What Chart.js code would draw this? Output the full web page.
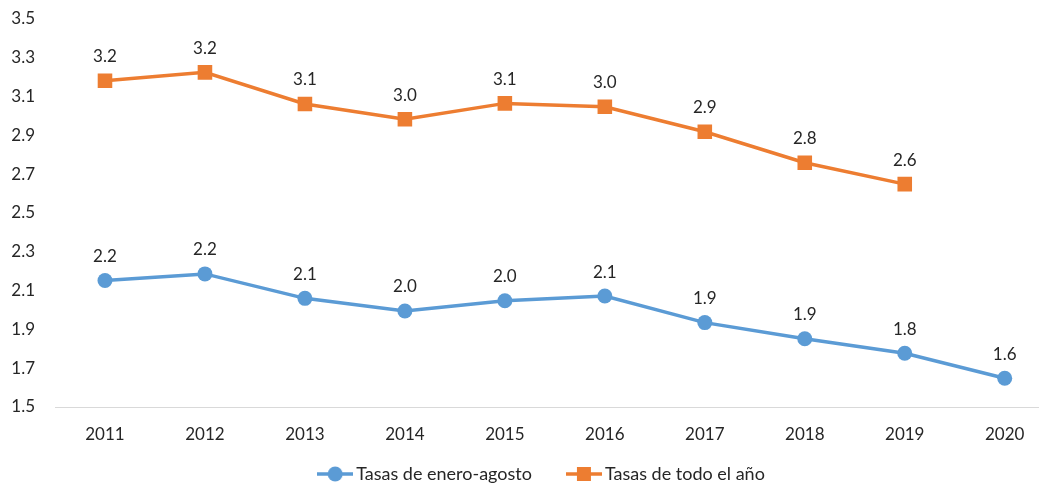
<!DOCTYPE html>
<html>
<head>
<meta charset="utf-8">
<script src="https://cdn.jsdelivr.net/npm/chart.js@4/dist/chart.umd.min.js"></script>
<style>
    html, body { margin: 0; padding: 0; background: #fff; overflow: hidden; }
    #wrap { position: relative; width: 1039px; height: 484px; overflow: hidden; }
    #tasasChart { display: block; }
</style>
</head>
<body>
<div id="wrap"><canvas id="tasasChart" width="1065" height="484"></canvas></div>
<script>
// years on the x axis
const years = ['2011', '2012', '2013', '2014', '2015', '2016', '2017', '2018', '2019', '2020'];

// series values
const eneroAgosto = [2.152, 2.186, 2.060, 1.995, 2.048, 2.072, 1.935, 1.852, 1.777, 1.648];
const todoElAnio = [3.182, 3.225, 3.062, 2.983, 3.065, 3.048, 2.919, 2.759, 2.649, null];

const seriesNames = ['Tasas de enero-agosto', 'Tasas de todo el año'];

const BLUE = '#5B9BD5';
const ORANGE = '#ED7D31';
const TEXT = '#262626';
const FONT = 'Lato, "Open Sans", sans-serif';

// legend glyph: short line with the marker in the middle
function legendGlyph(color, shape) {
    const c = document.createElement('canvas');
    c.width = 36;
    c.height = 16;
    const ctx = c.getContext('2d');
    ctx.strokeStyle = color;
    ctx.lineWidth = 3.5;
    ctx.beginPath();
    ctx.moveTo(0, 8);
    ctx.lineTo(36, 8);
    ctx.stroke();
    ctx.fillStyle = color;
    if (shape === 'circle') {
        ctx.beginPath();
        ctx.arc(18, 8, 7.5, 0, Math.PI * 2);
        ctx.fill();
    } else {
        ctx.fillRect(11, 1, 14, 14);
    }
    return c;
}

const valueLabels = {
    id: 'valueLabels',
    afterDatasetsDraw(chart) {
        const ctx = chart.ctx;
        ctx.save();
        ctx.font = '17px ' + FONT;
        ctx.fillStyle = TEXT;
        ctx.textAlign = 'center';
        ctx.textBaseline = 'middle';
        chart.data.datasets.forEach((ds, i) => {
            const meta = chart.getDatasetMeta(i);
            meta.data.forEach((pt, j) => {
                const v = ds.data[j];
                if (v == null) return;
                ctx.fillText(v.toFixed(1), pt.x, pt.y - 24);
            });
        });
        ctx.restore();
    },
};

// nudge the legend row to where the original sits
const LEGEND_PAD = 40;
const legendNudge = {
    id: 'legendNudge',
    afterLayout(chart) {
        const lg = chart.legend;
        if (!lg) return;
        lg.left += 12;
        lg.right += 12;
        lg.top = 474 - 9 - LEGEND_PAD;
    },
};

const glyphs = [legendGlyph(BLUE, 'circle'), legendGlyph(ORANGE, 'rect')];

new Chart(document.getElementById('tasasChart').getContext('2d'), {
    type: 'line',
    data: {
        labels: years,
        datasets: [
            {
                label: seriesNames[0],
                data: eneroAgosto,
                borderColor: BLUE,
                backgroundColor: BLUE,
                borderWidth: 3.5,
                pointStyle: 'circle',
                pointRadius: 7.5,
                pointBorderWidth: 0,
                pointHoverRadius: 7.5,
                tension: 0,
            },
            {
                label: seriesNames[1],
                data: todoElAnio,
                borderColor: ORANGE,
                backgroundColor: ORANGE,
                borderWidth: 3.5,
                pointStyle: 'rect',
                pointRadius: 10.3,
                pointBorderWidth: 0,
                pointHoverRadius: 10.3,
                tension: 0,
            },
        ],
    },
    options: {
        responsive: false,
        animation: false,
        devicePixelRatio: 1,
        layout: { padding: { top: 19, right: 1, left: 0, bottom: 0 } },
        plugins: {
            tooltip: { enabled: false },
            legend: {
                position: 'bottom',
                maxHeight: 37,
                labels: {
                    usePointStyle: true,
                    pointStyleWidth: 24,
                    padding: LEGEND_PAD,
                    color: TEXT,
                    font: { family: FONT, size: 18 },
                    generateLabels: (chart) =>
                        chart.data.datasets.map((ds, i) => ({
                            text: ds.label,
                            pointStyle: glyphs[i],
                            fillStyle: ds.borderColor,
                            strokeStyle: ds.borderColor,
                            lineWidth: 0,
                            fontColor: TEXT,
                            hidden: false,
                            datasetIndex: i,
                        })),
                },
            },
        },
        scales: {
            x: {
                offset: true,
                grid: { display: false },
                border: { display: true, color: '#D9D9D9', width: 1 },
                ticks: { color: TEXT, font: { family: FONT, size: 17 }, padding: 9 },
                afterFit: (s) => { s.height = 40; },
            },
            y: {
                min: 1.5,
                max: 3.5,
                grid: {
                    display: true,
                    drawOnChartArea: false,
                    drawTicks: true,
                    tickLength: 18,
                    color: 'rgba(0,0,0,0)',
                },
                border: { display: false },
                ticks: {
                    stepSize: 0.2,
                    color: TEXT,
                    font: { family: FONT, size: 17 },
                    padding: 2,
                    callback: (v) => v.toFixed(1),
                },
                afterFit: (s) => { s.width = 55; },
            },
        },
    },
    plugins: [valueLabels, legendNudge],
});
</script>
</body>
</html>
